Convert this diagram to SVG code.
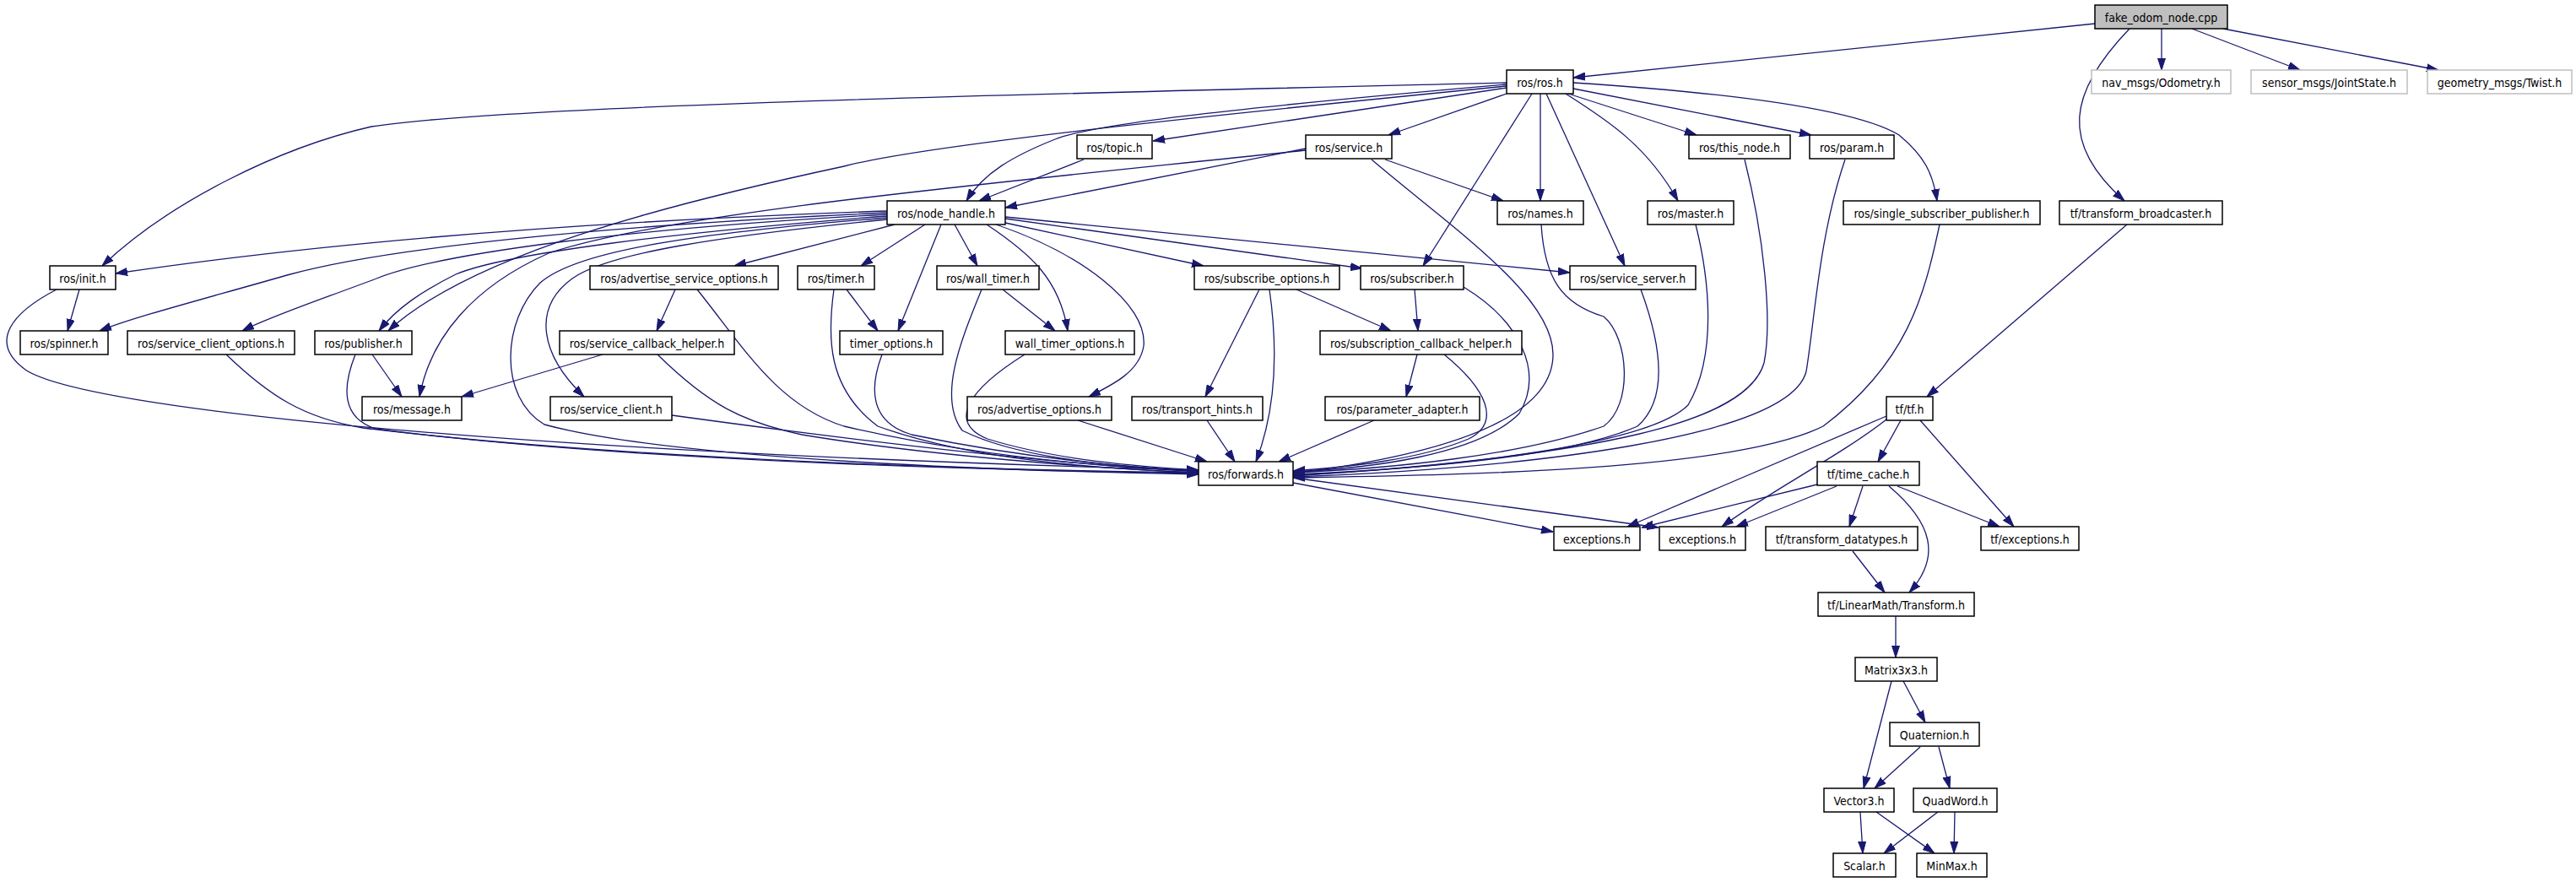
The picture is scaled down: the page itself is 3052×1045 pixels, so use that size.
<svg xmlns="http://www.w3.org/2000/svg" width="3052" height="1045" viewBox="0 0 3052 1045">
<style>
rect{fill:#fff;stroke:#000;stroke-width:1.5}
rect.root{fill:#bfbfbf}
rect.ext{stroke:#bfbfbf}
text{font-family:"DejaVu Sans Condensed","DejaVu Sans","Liberation Sans",sans-serif;font-stretch:condensed;font-size:14px;fill:#000;text-anchor:middle}
#edges path{fill:none;stroke:#191970;stroke-width:1.3;marker-end:url(#arr)}
</style>
<defs>
<marker id="arr" markerUnits="userSpaceOnUse" markerWidth="14" markerHeight="10" viewBox="0 0 14 10" refX="14" refY="5" orient="auto"><path d="M0,0.5 L14,5 L0,9.5 z" fill="#191970" stroke="#191970" stroke-width="1"/></marker>
</defs>
<rect x="0" y="0" width="3052" height="1045" style="fill:#fff;stroke:none"/>
<g id="edges">
<path d="M2482,28 L1864,92"/>
<path d="M2561,34 L2561,83"/>
<path d="M2597,34 L2725,83"/>
<path d="M2634,34 L2889,83"/>
<path d="M2523,34 C2450,110 2440,170 2517,238"/>
<path d="M1785,98 C1200,112 600,125 440,150 C330,175 200,240 121,315"/>
<path d="M1785,100 C1500,125 1300,145 1250,165 C1200,185 1165,205 1145,238"/>
<path d="M1785,102 C1500,130 1100,170 1000,197 C800,240 560,300 460,392"/>
<path d="M1785,104 L1366,167"/>
<path d="M1785,111 L1645,160"/>
<path d="M1815,111 L1686,315"/>
<path d="M1825,111 L1825,238"/>
<path d="M1832,111 L1925,315"/>
<path d="M1855,111 C1900,140 1950,170 1988,238"/>
<path d="M1858,111 L2010,160"/>
<path d="M1864,105 L2146,160"/>
<path d="M1864,98 C2050,110 2200,130 2250,160 C2280,185 2290,205 2295,238"/>
<path d="M1284,189 L1160,238"/>
<path d="M1547,176 L1191,246"/>
<path d="M1641,189 L1781,238"/>
<path d="M1625,189 C1720,270 1840,350 1840,420 C1840,500 1700,540 1532,561"/>
<path d="M1547,178 C1200,215 800,250 650,300 C560,340 510,400 497,470"/>
<path d="M1051,250 C700,262 400,285 137,324"/>
<path d="M1051,252 C700,268 450,295 340,326 C250,352 160,375 118,392"/>
<path d="M1051,254 C750,270 520,300 446,330 C380,355 320,375 287,392"/>
<path d="M1051,256 C800,275 600,300 540,325 C500,345 470,365 449,392"/>
<path d="M1051,258 C800,278 680,300 640,335 C595,380 590,470 645,503 C800,545 1200,558 1420,562"/>
<path d="M1051,260 C850,280 720,300 678,330 C630,365 640,420 692,470"/>
<path d="M1060,266 L870,315"/>
<path d="M1096,266 L1020,315"/>
<path d="M1115,266 L1064,392"/>
<path d="M1131,266 L1158,315"/>
<path d="M1169,266 C1220,300 1255,330 1265,392"/>
<path d="M1180,266 C1280,300 1360,360 1355,410 C1350,440 1320,455 1290,470"/>
<path d="M1191,264 L1426,315"/>
<path d="M1191,259 L1614,318"/>
<path d="M1191,257 L1860,323"/>
<path d="M1826,266 C1830,330 1850,360 1900,375 C1930,400 1935,480 1900,505 C1800,540 1650,555 1532,560"/>
<path d="M2009,266 C2025,330 2035,420 2000,480 C1950,530 1700,555 1532,563"/>
<path d="M2067,189 C2090,280 2100,380 2090,430 C2070,500 1900,540 1532,564"/>
<path d="M2186,189 C2155,280 2150,380 2140,440 C2120,520 1800,555 1532,565"/>
<path d="M2298,266 C2280,350 2260,430 2160,505 C2050,560 1700,563 1532,566"/>
<path d="M2520,266 L2283,470"/>
<path d="M94,343 L80,392"/>
<path d="M67,343 C15,370 -15,405 30,438 C100,485 600,535 1420,557"/>
<path d="M800,343 L778,392"/>
<path d="M826,343 C880,410 920,480 1000,505 C1150,540 1300,553 1420,558"/>
<path d="M1003,343 L1040,392"/>
<path d="M988,343 C980,400 980,460 1040,505 C1150,545 1300,555 1420,560"/>
<path d="M1188,343 L1250,392"/>
<path d="M1163,343 C1140,400 1110,470 1140,510 C1200,540 1300,552 1420,558"/>
<path d="M1492,343 L1428,470"/>
<path d="M1504,343 C1515,420 1510,490 1488,547"/>
<path d="M1536,343 L1648,392"/>
<path d="M1676,343 L1680,392"/>
<path d="M1734,340 C1800,380 1830,440 1800,490 C1750,540 1620,555 1532,559"/>
<path d="M1944,343 C1965,400 1980,470 1940,505 C1850,545 1650,557 1532,562"/>
<path d="M268,420 C320,470 360,495 430,507 C700,540 1100,556 1420,560"/>
<path d="M441,420 L476,470"/>
<path d="M421,420 C405,460 405,495 445,508 C700,542 1100,556 1420,561"/>
<path d="M714,420 L547,470"/>
<path d="M779,420 C840,480 880,500 950,515 C1100,540 1300,555 1420,560"/>
<path d="M796,492 C1000,520 1250,550 1420,559"/>
<path d="M1045,420 C1030,460 1030,500 1080,515 C1200,540 1320,553 1420,558"/>
<path d="M1214,420 C1150,460 1120,500 1170,520 C1250,545 1350,553 1420,557"/>
<path d="M1277,498 L1430,547"/>
<path d="M1430,498 L1463,547"/>
<path d="M1679,420 L1666,470"/>
<path d="M1711,420 C1760,460 1780,500 1740,520 C1680,545 1600,553 1532,558"/>
<path d="M1628,498 L1515,547"/>
<path d="M1532,572 L1840,630"/>
<path d="M1532,566 L1965,625"/>
<path d="M2235,493 L1928,624"/>
<path d="M2235,497 C2180,540 2100,580 2040,624"/>
<path d="M2252,498 L2225,547"/>
<path d="M2275,498 L2386,624"/>
<path d="M2153,574 L1945,625"/>
<path d="M2176,576 L2057,624"/>
<path d="M2207,576 L2191,624"/>
<path d="M2248,576 L2369,624"/>
<path d="M2238,576 C2290,620 2300,660 2262,702"/>
<path d="M2195,653 L2233,702"/>
<path d="M2246,730 L2246,779"/>
<path d="M2241,807 L2208,934"/>
<path d="M2255,807 L2281,856"/>
<path d="M2275,885 L2221,934"/>
<path d="M2297,885 L2310,934"/>
<path d="M2204,962 L2207,1011"/>
<path d="M2223,962 L2292,1011"/>
<path d="M2296,962 L2232,1011"/>
<path d="M2316,962 L2315,1011"/>
</g>
<g id="fake_odom_node"><rect class="root" x="2482" y="6" width="157" height="28"/><text x="2560.5" y="25.5">fake_odom_node.cpp</text></g>
<g id="ros_ros"><rect x="1785" y="83" width="79" height="28"/><text x="1824.5" y="102.5">ros/ros.h</text></g>
<g id="nav_msgs_odometry"><rect class="ext" x="2478" y="83" width="165" height="28"/><text x="2560.5" y="102.5">nav_msgs/Odometry.h</text></g>
<g id="sensor_msgs_jointstate"><rect class="ext" x="2667" y="83" width="185" height="28"/><text x="2759.5" y="102.5">sensor_msgs/JointState.h</text></g>
<g id="geometry_msgs_twist"><rect class="ext" x="2876" y="83" width="171" height="28"/><text x="2961.5" y="102.5">geometry_msgs/Twist.h</text></g>
<g id="ros_topic"><rect x="1276" y="160" width="89" height="28"/><text x="1320.5" y="179.5">ros/topic.h</text></g>
<g id="ros_service"><rect x="1547" y="160" width="102" height="28"/><text x="1598" y="179.5">ros/service.h</text></g>
<g id="ros_this_node"><rect x="2001" y="160" width="120" height="28"/><text x="2061" y="179.5">ros/this_node.h</text></g>
<g id="ros_param"><rect x="2144" y="160" width="100" height="28"/><text x="2194" y="179.5">ros/param.h</text></g>
<g id="ros_node_handle"><rect x="1051" y="238" width="140" height="28"/><text x="1121" y="257.5">ros/node_handle.h</text></g>
<g id="ros_names"><rect x="1774" y="238" width="102" height="28"/><text x="1825" y="257.5">ros/names.h</text></g>
<g id="ros_master"><rect x="1952" y="238" width="102" height="28"/><text x="2003" y="257.5">ros/master.h</text></g>
<g id="ros_single_subscriber_publisher"><rect x="2184" y="238" width="233" height="28"/><text x="2300.5" y="257.5">ros/single_subscriber_publisher.h</text></g>
<g id="tf_transform_broadcaster"><rect x="2440" y="238" width="193" height="28"/><text x="2536.5" y="257.5">tf/transform_broadcaster.h</text></g>
<g id="ros_init"><rect x="59" y="315" width="78" height="28"/><text x="98" y="334.5">ros/init.h</text></g>
<g id="ros_advertise_service_options"><rect x="699" y="315" width="223" height="28"/><text x="810.5" y="334.5">ros/advertise_service_options.h</text></g>
<g id="ros_timer"><rect x="945" y="315" width="91" height="28"/><text x="990.5" y="334.5">ros/timer.h</text></g>
<g id="ros_wall_timer"><rect x="1110" y="315" width="121" height="28"/><text x="1170.5" y="334.5">ros/wall_timer.h</text></g>
<g id="ros_subscribe_options"><rect x="1415" y="315" width="172" height="28"/><text x="1501" y="334.5">ros/subscribe_options.h</text></g>
<g id="ros_subscriber"><rect x="1612" y="315" width="122" height="28"/><text x="1673" y="334.5">ros/subscriber.h</text></g>
<g id="ros_service_server"><rect x="1860" y="315" width="149" height="28"/><text x="1934.5" y="334.5">ros/service_server.h</text></g>
<g id="ros_spinner"><rect x="24" y="392" width="104" height="28"/><text x="76" y="411.5">ros/spinner.h</text></g>
<g id="ros_service_client_options"><rect x="151" y="392" width="198" height="28"/><text x="250" y="411.5">ros/service_client_options.h</text></g>
<g id="ros_publisher"><rect x="373" y="392" width="115" height="28"/><text x="430.5" y="411.5">ros/publisher.h</text></g>
<g id="ros_service_callback_helper"><rect x="663" y="392" width="207" height="28"/><text x="766.5" y="411.5">ros/service_callback_helper.h</text></g>
<g id="timer_options"><rect x="995" y="392" width="122" height="28"/><text x="1056" y="411.5">timer_options.h</text></g>
<g id="wall_timer_options"><rect x="1191" y="392" width="153" height="28"/><text x="1267.5" y="411.5">wall_timer_options.h</text></g>
<g id="ros_subscription_callback_helper"><rect x="1564" y="392" width="239" height="28"/><text x="1683.5" y="411.5">ros/subscription_callback_helper.h</text></g>
<g id="ros_message"><rect x="429" y="470" width="118" height="28"/><text x="488" y="489.5">ros/message.h</text></g>
<g id="ros_service_client"><rect x="652" y="470" width="144" height="28"/><text x="724" y="489.5">ros/service_client.h</text></g>
<g id="ros_advertise_options"><rect x="1146" y="470" width="171" height="28"/><text x="1231.5" y="489.5">ros/advertise_options.h</text></g>
<g id="ros_transport_hints"><rect x="1341" y="470" width="155" height="28"/><text x="1418.5" y="489.5">ros/transport_hints.h</text></g>
<g id="ros_parameter_adapter"><rect x="1570" y="470" width="183" height="28"/><text x="1661.5" y="489.5">ros/parameter_adapter.h</text></g>
<g id="tf_tf"><rect x="2235" y="470" width="55" height="28"/><text x="2262.5" y="489.5">tf/tf.h</text></g>
<g id="ros_forwards"><rect x="1420" y="547" width="112" height="28"/><text x="1476" y="566.5">ros/forwards.h</text></g>
<g id="tf_time_cache"><rect x="2153" y="547" width="121" height="28"/><text x="2213.5" y="566.5">tf/time_cache.h</text></g>
<g id="exceptions_1"><rect x="1841" y="624" width="102" height="28"/><text x="1892" y="643.5">exceptions.h</text></g>
<g id="exceptions_2"><rect x="1966" y="624" width="102" height="28"/><text x="2017" y="643.5">exceptions.h</text></g>
<g id="tf_transform_datatypes"><rect x="2092" y="624" width="180" height="28"/><text x="2182" y="643.5">tf/transform_datatypes.h</text></g>
<g id="tf_exceptions"><rect x="2347" y="624" width="116" height="28"/><text x="2405" y="643.5">tf/exceptions.h</text></g>
<g id="tf_linearmath_transform"><rect x="2154" y="702" width="185" height="28"/><text x="2246.5" y="721.5">tf/LinearMath/Transform.h</text></g>
<g id="matrix3x3"><rect x="2198" y="779" width="97" height="28"/><text x="2246.5" y="798.5">Matrix3x3.h</text></g>
<g id="quaternion"><rect x="2239" y="856" width="106" height="28"/><text x="2292" y="875.5">Quaternion.h</text></g>
<g id="vector3"><rect x="2161" y="934" width="83" height="28"/><text x="2202.5" y="953.5">Vector3.h</text></g>
<g id="quadword"><rect x="2267" y="934" width="99" height="28"/><text x="2316.5" y="953.5">QuadWord.h</text></g>
<g id="scalar"><rect x="2172" y="1011" width="74" height="28"/><text x="2209" y="1030.5">Scalar.h</text></g>
<g id="minmax"><rect x="2271" y="1011" width="83" height="28"/><text x="2312.5" y="1030.5">MinMax.h</text></g>
</svg>
